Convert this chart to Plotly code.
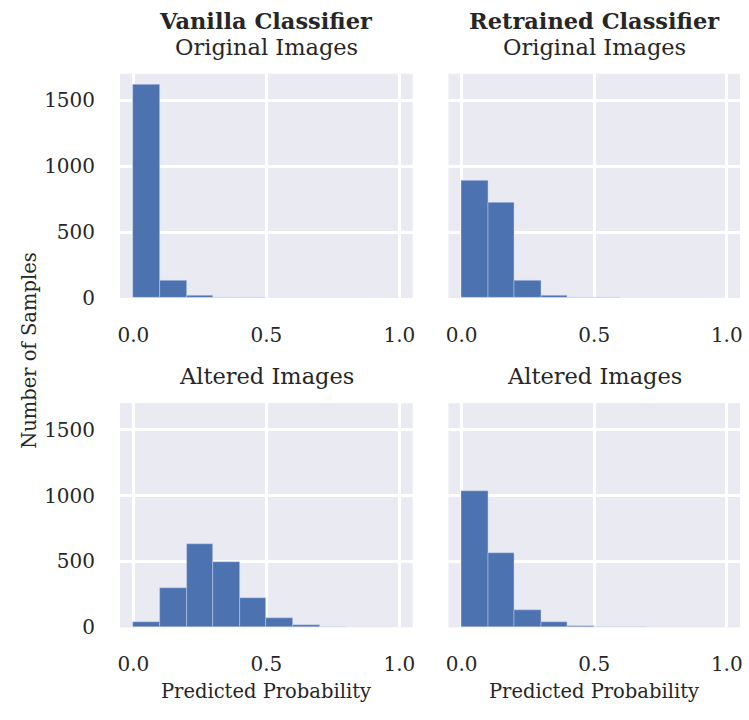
import plotly.graph_objects as go

bin_edges = [0.0, 0.1, 0.2, 0.3, 0.4, 0.5, 0.6, 0.7, 0.8, 0.9, 1.0]
vanilla_original = [1620, 130, 15, 3, 1, 0, 0, 0, 0, 0]
retrained_original = [890, 725, 127, 14, 2, 1, 0, 0, 0, 0]
vanilla_altered = [37, 295, 630, 495, 223, 69, 17, 3, 0, 0]
retrained_altered = [1033, 565, 134, 37, 7, 2, 1, 0, 0, 0]

x_ticks = [0.0, 0.5, 1.0]
x_tick_labels = ["0.0", "0.5", "1.0"]
y_ticks = [0, 500, 1000, 1500]
y_tick_labels = ["0", "500", "1000", "1500"]

FONT = "DejaVu Serif"
BG = "#EAEAF2"
BAR = "#4C72B0"
TXT = "#262626"
FS = 19.5
TFS = 22.5

W, H = 749, 720
cols = [(118, 413), (449, 743)]
rows = [(75, 303), (410, 638)]

centers = [(bin_edges[i] + bin_edges[i + 1]) / 2 for i in range(len(bin_edges) - 1)]
widths = [bin_edges[i + 1] - bin_edges[i] for i in range(len(bin_edges) - 1)]

panels = [vanilla_original, retrained_original, vanilla_altered, retrained_altered]

fig = go.Figure()
layout = dict(
    width=W, height=H, margin=dict(l=0, r=0, t=0, b=0),
    paper_bgcolor="white", plot_bgcolor=BG, showlegend=False,
    font=dict(family=FONT, size=FS, color=TXT), bargap=0,
)

for i, vals in enumerate(panels):
    r, c = divmod(i, 2)
    n = i + 1
    xa = "x" if n == 1 else f"x{n}"
    ya = "y" if n == 1 else f"y{n}"
    line_w = [0.8 if v > 0 else 0 for v in vals]
    fig.add_trace(go.Bar(
        x=centers, y=vals, width=widths, xaxis=xa, yaxis=ya,
        marker=dict(color=BAR, line=dict(color="rgba(200,210,235,0.6)", width=line_w)),
    ))
    x0, x1 = cols[c]
    y0, y1 = rows[r]
    xkey = "xaxis" if n == 1 else f"xaxis{n}"
    ykey = "yaxis" if n == 1 else f"yaxis{n}"
    layout[xkey] = dict(
        domain=[x0 / W, x1 / W], anchor=ya, range=[-0.05, 1.05],
        tickvals=x_ticks, ticktext=x_tick_labels, showgrid=True,
        gridcolor="white", gridwidth=2.5, zeroline=False, showline=False,
        ticks="", ticklabelstandoff=23, tickfont=dict(size=20, family=FONT, color=TXT),
    )
    layout[ykey] = dict(
        domain=[1 - y1 / H, 1 - y0 / H], anchor=xa, range=[0, 1701],
        tickvals=y_ticks, ticktext=y_tick_labels, showgrid=True,
        gridcolor="white", gridwidth=2.5, zeroline=False, showline=False,
        ticks="", showticklabels=(c == 0), ticklabelstandoff=24,
        tickfont=dict(size=20, family=FONT, color=TXT),
    )

fig.update_layout(**layout)

def ann(text, x, y, size=FS, angle=0):
    fig.add_annotation(text=text, x=x / W, y=1 - y / H, xref="paper", yref="paper",
                       showarrow=False, xanchor="center", yanchor="middle",
                       textangle=angle, font=dict(family=FONT, size=size, color=TXT))

ann("<b>Vanilla Classifier</b>", 265.5, 21, TFS)
ann("Original Images", 265.5, 48, TFS)
ann("<b>Retrained Classifier</b>", 596, 21, TFS)
ann("Original Images", 596, 48, TFS)
ann("Altered Images", 265.5, 382, TFS)
ann("Altered Images", 596, 382, TFS)
ann("Predicted Probability", 265.5, 703, FS)
ann("Predicted Probability", 596, 703, FS)
ann("Number of Samples", 26, 356, 19.5, angle=-90)

fig.write_html("out.html")
